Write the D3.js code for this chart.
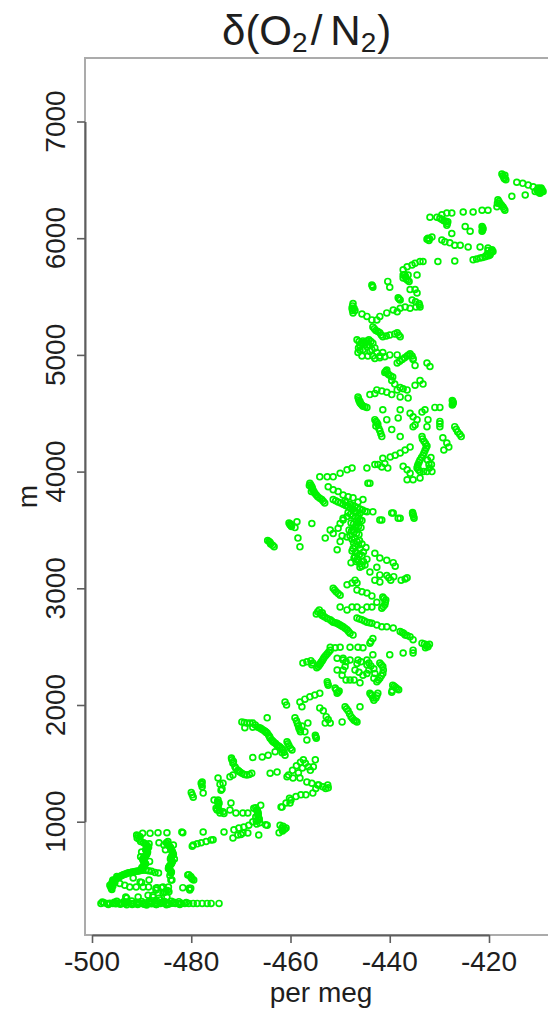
<!DOCTYPE html>
<html>
<head>
<meta charset="utf-8">
<script src="https://cdn.jsdelivr.net/npm/d3@7"></script>
<style>
  html, body { margin: 0; padding: 0; background: #ffffff; }
  svg { display: block; }
  text { font-family: "Liberation Sans", Arial, Helvetica, sans-serif; fill: #1e1e1e; }
</style>
</head>
<body>
<svg id="chart" width="548" height="1017"></svg>
<script>
// delta(O2/N2) in per meg against altitude in m, grouped by altitude band.
// Each entry: [per meg, m]
const bandBelow1000 = [
  [-498.2,300],[-497.6,305],[-497.0,298],[-496.4,302],[-495.8,300],[-495.2,296],[-494.6,303],[-494.0,300],
  [-493.4,298],[-492.8,305],[-492.2,300],[-491.6,296],[-491.0,302],[-490.4,300],[-489.8,298],[-489.2,304],
  [-488.6,300],[-488.0,296],[-487.4,302],[-486.8,300],[-486.2,298],[-485.6,303],[-485.0,300],[-484.4,297],
  [-483.8,302],[-483.2,300],[-482.6,298],[-482.0,302],[-481.3,300],[-480.5,300],[-479.6,300],[-478.8,300],
  [-477.8,300],[-476.8,300],[-476.0,300],[-474.4,300],
  [-495.0,318],[-493.6,315],[-492.0,320],[-490.0,316],[-488.5,318],[-487.0,322],[-485.4,316],[-484.0,318],
  [-482.5,315],[-493.0,288],[-490.8,290],[-489.0,286],[-487.0,290],[-485.0,288],
  [-497.9,312],[-496.7,290],[-495.5,310],[-494.3,292],[-493.1,312],[-491.9,290],[-490.7,310],[-489.5,292],
  [-488.3,310],[-487.1,290],[-485.9,310],[-484.7,292],[-483.5,310],[-482.3,290],[-481.0,308],
  [-493.2,355],[-490.7,355],[-488.7,370],[-487.7,370],[-485.7,390],[-485.1,400],[-484.5,400],[-487.1,430],
  [-486.0,435],[-484.6,440],[-481.7,435],[-480.5,545],[-480.0,520],[-479.5,500],[-480.3,415],[-480.1,430],
  [-480.7,544],[-484.1,500],[-484.1,560],[-484.5,610],[-491.1,440],[-490.0,480],[-488.6,440],[-488.5,500],
  [-487.1,415],[-484.9,355],[-487.7,355],[-486.3,330],[-486.9,433],[-485.7,441],[-483.9,500],
  [-485.4,395],[-484.8,410],[-480.4,430],[-480.1,530],[-479.8,510],[-493.0,345],[-486.5,345],
  [-496.2,440],[-496.0,470],[-495.6,490],[-495.2,510],[-494.6,525],[-494.0,540],[-493.4,550],[-492.8,560],
  [-492.2,565],[-491.6,570],[-491.0,575],[-490.4,580],[-489.8,585],[-489.2,585],[-488.6,580],[-488.0,575],
  [-487.3,565],[-486.6,560],[-496.0,420],[-495.8,450],[-495.8,500],[-495.0,530],
  [-496.4,455],[-495.9,485],[-495.4,500],[-494.9,518],[-494.3,532],[-493.7,545],[-493.1,555],[-492.5,563],
  [-491.9,568],[-491.3,573],[-490.7,578],[-490.1,583],[-496.1,430],
  [-495.4,480],[-494.4,470],[-493.4,455],[-492.4,440],[-491.7,518],[-490.3,484],[-489.7,441],
  [-490.0,600],[-489.6,620],[-489.2,640],[-489.6,660],[-489.8,680],[-489.4,700],[-489.0,720],[-488.8,740],
  [-489.2,760],[-488.6,780],[-489.0,800],[-489.6,820],[-490.2,700],[-488.4,660],[-490.0,740],
  [-489.9,610],[-489.4,630],[-489.4,650],[-489.7,670],[-489.6,690],[-489.2,710],[-488.9,730],[-489.0,750],
  [-488.9,770],[-488.8,790],[-489.3,810],[-490.2,830],[-490.5,850],[-490.3,870],
  [-490.7,880],[-490.9,860],[-489.8,900],[-488.3,900],[-486.7,905],[-484.9,905],[-486.5,820],[-485.5,800],
  [-488.5,810],[-491.0,886],
  [-485.0,820],[-484.6,800],[-484.2,780],[-484.0,760],[-483.8,740],[-483.6,720],[-484.0,700],[-484.2,680],
  [-483.8,660],[-484.0,640],[-484.4,620],[-484.6,600],[-484.2,580],[-483.6,800],[-485.2,760],[-483.4,680],
  [-484.8,810],[-484.4,790],[-484.1,770],[-483.9,750],[-483.7,730],[-483.8,710],[-484.1,690],[-484.0,670],
  [-483.9,650],[-484.2,630],[-484.5,610],[-484.4,590],[-484.0,570],[-484.3,540],[-484.7,830],
  [-481.7,905],[-477.6,912],[-473.4,912],[-481.9,912],
  [-479.6,800],[-478.8,810],[-478.0,820],[-477.0,830],[-476.0,843],[-475.6,845],[-479.8,790],
  [-471.6,860],[-470.6,886],[-469.6,903],[-468.6,903],[-470.0,890],
  [-468.4,970],[-469.4,955],[-470.4,945],[-471.4,930],[-466.4,886],[-465.0,973],[-466.2,990],[-466.8,980],
  [-464.7,970],[-462.1,970],[-461.7,945],[-461.5,960],[-462.3,905],[-461.5,930],[-460.9,945],[-461.2,935],
  [-461.6,920]
];

const band1000to2000 = [
  [-471.0,1075],[-469.6,1075],[-468.6,1075],[-467.4,1115],[-466.6,1085],[-467.0,1040],[-466.4,1015],[-467.6,1000],
  [-466.8,1100],[-466.6,1060],[-466.4,1030],[-467.0,1120],[-466.0,1140],
  [-466.7,1090],[-466.5,1070],[-466.5,1045],[-466.3,1022],[-466.9,1005],
  [-461.9,1125],[-460.9,1160],[-459.9,1185],[-458.9,1215],[-457.9,1230],[-456.9,1230],[-460.2,1200],[-461.7,1125],
  [-460.1,1160],[-455.5,1245],[-454.9,1285],[-454.3,1315],[-452.9,1285],[-452.5,1315],
  [-479.8,1230],[-479.6,1210],[-480.0,1250],[-477.6,1245],[-478.0,1330],[-477.8,1300],[-477.8,1340],[-477.9,1318],
  [-475.4,1185],[-474.4,1160],[-475.0,1115],[-474.8,1100],[-473.6,1085],[-473.4,1070],[-472.0,1160],[-474.0,1270],
  [-473.6,1330],[-474.6,1375],[-474.2,1320],[-473.8,1280],[-472.2,1385],[-471.6,1400],[-474.6,1185],[-474.6,1130],
  [-474.2,1075],[-472.2,1100],[-474.5,1150],[-474.7,1170],[-474.3,1095],
  [-471.8,1530],[-471.2,1470],[-470.6,1440],[-469.8,1415],[-468.8,1400],[-467.8,1415],[-471.6,1500],[-470.2,1425],
  [-471.5,1515],[-471.0,1455],[-470.4,1432],[-469.3,1405],[-468.3,1405],[-471.9,1545],
  [-467.6,1550],[-465.7,1555],[-464.5,1570],[-463.1,1600],[-461.7,1590],
  [-464.1,1415],[-462.7,1425],[-460.7,1385],[-459.5,1375],[-458.1,1375],[-456.7,1340],[-455.7,1330],[-454.5,1315],
  [-453.5,1300],[-452.4,1290],
  [-460.4,1400],[-459.6,1440],[-458.8,1480],[-458.0,1510],[-457.4,1530],[-457.0,1500],[-457.6,1460],[-458.4,1420],
  [-456.4,1470],[-456.0,1440],[-455.0,1530],[-455.4,1470],
  [-469.8,1855],[-468.8,1845],[-467.6,1845],[-466.6,1810],[-465.5,1785],[-464.7,1760],[-464.1,1715],[-463.5,1685],
  [-462.7,1655],[-462.1,1640],[-461.5,1615],[-461.1,1570],[-466.0,1800],[-465.0,1770],[-464.4,1740],[-463.8,1700],
  [-463.0,1670],[-464.7,1890],[-469.2,1805],[-467.6,1810],
  [-469.3,1850],[-468.2,1845],[-467.1,1828],[-466.3,1805],[-465.8,1792],[-465.2,1778],[-464.9,1765],[-464.2,1728],
  [-463.6,1692],[-463.3,1678],[-462.4,1648],[-461.8,1628],[-461.3,1595],
  [-460.7,1685],[-460.3,1650],[-459.7,1615],[-460.5,1668],[-460.0,1630],
  [-459.1,1890],[-458.6,1840],[-458.3,1800],[-458.0,1770],[-457.7,1820],[-458.8,1865],[-458.4,1820],[-458.1,1785],
  [-457.1,1770],[-456.7,1700],[-456.5,1845],[-455.0,1740],[-454.8,1715],[-454.9,1728],
  [-457.7,1985],[-454.1,1975],[-453.4,1950],[-452.8,1900],[-452.4,1875],[-453.0,1845],[-452.0,1845],
  [-449.6,1855],[-449.0,1985],[-448.4,1950],[-447.8,1900],[-447.2,1870],[-446.6,1855],[-446.0,1985],
  [-448.7,1968],[-448.1,1925],[-447.5,1885],[-446.9,1862]
];

const band2000to3000 = [
  [-461.1,2025],[-460.8,2000],
  [-458.1,2025],[-457.1,2050],[-456.1,2070],[-455.1,2085],[-454.1,2100],
  [-452.6,2200],[-452.4,2170],[-451.0,2145],[-450.6,2100],[-450.2,2120],[-452.5,2185],[-450.4,2110],[-450.8,2130],
  [-450.6,2300],[-449.4,2300],[-449.0,2330],[-449.6,2255],[-448.8,2215],[-448.0,2215],[-447.2,2215],[-446.0,2190],
  [-447.0,2300],[-446.2,2280],[-445.4,2255],[-444.6,2270],[-444.2,2300],[-443.8,2335],[-443.2,2310],[-443.0,2270],
  [-443.2,2230],
  [-444.0,2100],[-443.6,2080],[-443.2,2040],[-442.8,2060],[-442.4,2100],[-443.4,2060],[-443.8,2090],[-442.6,2080],
  [-439.4,2170],[-438.8,2150],[-438.2,2130],[-439.6,2110],[-439.1,2160],[-438.5,2140],[-439.5,2125],
  [-457.5,2360],[-456.7,2370],[-455.5,2360],[-454.1,2350],[-455.9,2380],[-455.7,2345],[-454.7,2320],
  [-449.4,2385],[-448.8,2370],[-446.6,2355],[-445.8,2370],[-444.6,2345],[-444.2,2360],
  [-442.0,2360],[-441.4,2330],[-441.4,2270],[-442.0,2230],[-442.6,2200],
  [-441.7,2345],[-441.3,2300],[-441.7,2250],[-442.3,2215],
  [-443.4,2430],[-440.0,2430],[-437.3,2445],[-435.3,2470],[-435.3,2445],
  [-450.6,2400],[-449.4,2400],[-448.0,2385],[-446.4,2385],[-444.6,2385],
  [-452.0,2495],[-451.0,2490],[-450.0,2495],[-448.0,2495],[-446.4,2495],[-445.4,2490],
  [-452.0,2470],[-452.6,2440],[-453.2,2410],[-453.6,2380],[-454.0,2355],[-454.4,2330],
  [-452.3,2455],[-452.9,2425],[-453.4,2395],[-453.8,2368],[-454.2,2342],
  [-454.5,2800],[-453.7,2770],[-453.1,2755],[-452.0,2730],[-451.4,2710],[-450.6,2700],[-450.0,2685],[-449.4,2670],
  [-448.6,2645],[-448.0,2615],[-447.4,2600],[-454.8,2780],[-454.2,2815],[-453.6,2790],
  [-454.0,2785],[-453.4,2762],[-452.6,2742],[-451.7,2720],[-451.0,2705],[-450.3,2692],[-449.7,2678],[-449.0,2658],
  [-448.3,2630],
  [-446.6,2745],[-445.6,2730],[-444.6,2710],[-443.6,2700],[-442.6,2685],[-441.6,2670],[-440.6,2670],[-439.3,2660],
  [-437.9,2630],[-436.9,2600],[-435.9,2585],[-435.3,2560],[-433.5,2530],[-432.5,2515],[-432.3,2500],[-437.2,2615],
  [-432.8,2490],[-432.0,2520],
  [-446.1,2738],[-445.1,2720],[-444.1,2705],[-433.0,2522],[-432.6,2505],[-437.5,2622],[-436.5,2595],
  [-443.4,2570],[-443.8,2545],[-444.0,2530],
  [-450.0,2940],[-450.8,2970],
  [-446.6,2985],[-445.6,2970],[-444.6,2960],[-443.6,2935],[-442.6,2880],
  [-441.4,2925],[-440.8,2900],[-441.0,2860],[-441.6,2830],[-441.2,2912],[-440.9,2880],[-441.3,2845],
  [-450.0,2840],[-448.6,2815],[-447.6,2840],[-446.6,2840],[-445.6,2815],[-444.6,2840],[-443.6,2840]
];

const band3000to4000 = [
  [-451.4,3000],[-448.6,3030],[-447.6,3045],[-446.6,3045],[-451.1,2985],[-450.4,2955],
  [-442.0,3055],[-439.8,3070],[-437.7,3070],
  [-442.6,3180],[-442.0,3115],[-440.6,3110],[-440.2,3090],[-439.2,3100],[-436.9,3080],[-436.5,3090],
  [-443.0,3300],[-442.0,3260],[-440.6,3240],[-439.3,3220],[-438.9,3190],
  [-443.4,3655],[-442.0,3585],[-439.3,3645],[-437.9,3600],[-435.3,3630],[-435.1,3600],[-435.4,3650],
  [-435.2,3615],[-435.4,3640],
  [-449.0,3750],[-448.0,3720],[-447.0,3700],[-446.0,3680],[-445.0,3660],[-448.4,3650],[-447.4,3620],[-446.4,3600],
  [-445.6,3580],[-447.8,3560],[-446.8,3540],[-445.8,3520],[-448.2,3500],[-447.2,3480],[-446.2,3460],[-448.6,3440],
  [-447.6,3420],[-446.6,3400],[-445.6,3380],[-447.0,3360],[-446.0,3340],[-447.6,3320],[-446.6,3300],[-445.6,3280],
  [-447.2,3260],[-446.4,3240],[-447.8,3220],[-445.0,3200],[-446.0,3180],[-444.6,3250],[-444.8,3350],[-449.4,3600],
  [-449.6,3450],
  [-448.8,3735],[-447.5,3710],[-446.5,3690],[-445.5,3670],[-447.9,3635],[-446.9,3610],[-446.0,3590],[-447.3,3550],
  [-446.3,3530],[-447.7,3490],[-446.7,3470],[-448.0,3450],[-447.1,3430],[-446.1,3410],[-447.3,3390],[-446.3,3370],
  [-447.4,3340],[-446.9,3310],[-446.1,3290],[-447.0,3270],[-446.6,3250],[-446.8,3230],[-446.0,3210],[-445.6,3190],
  [-445.3,3230],[-445.3,3310],
  [-453.0,3430],[-452.0,3500],[-451.4,3470],[-450.4,3515],[-450.0,3555],[-449.4,3585],[-448.6,3615],[-450.0,3400],
  [-450.6,3330],
  [-458.5,3430],[-458.1,3355],
  [-460.1,3545],[-459.8,3530],[-460.3,3560],[-458.7,3570],[-459.1,3520],[-455.7,3555],[-460.0,3552],[-459.9,3538],
  [-464.3,3400],[-464.0,3380],[-463.3,3355],[-464.6,3410],[-464.1,3392],[-463.6,3368],
  [-446.0,3645],[-444.6,3655],
  [-444.0,3140],[-443.0,3070],[-447.0,3070],
  [-456.1,3900],[-455.7,3870],[-455.5,3845],[-455.1,3815],[-454.5,3785],[-453.7,3760],[-453.1,3730],[-456.2,3880],
  [-455.8,3830],[-455.9,3885],[-455.6,3858],[-455.3,3830],[-454.8,3800],[-454.1,3772],[-453.4,3745],
  [-454.1,3955],[-452.6,3955],[-451.4,3955],[-450.0,3985],
  [-452.4,3870],[-451.4,3845],[-450.4,3830],[-449.4,3800],[-448.4,3785],[-447.4,3775],[-446.4,3740],[-445.4,3760],
  [-451.4,3760],[-450.4,3740],[-449.4,3720],[-448.4,3700],[-447.4,3680],[-446.8,3650],[-446.4,3620],[-446.4,3560],
  [-446.8,3520],[-447.4,3500],
  [-450.9,3750],[-449.9,3730],[-448.9,3710],[-447.9,3690],[-447.1,3665],
  [-444.0,3900],[-441.6,3585],[-439.6,3645],[-438.3,3600],
  [-436.5,3930],[-435.3,3930],[-433.9,3945],[-444.4,3900],[-435.9,3985]
];

const band4000to5000 = [
  [-448.6,4015],[-447.6,4030],
  [-446.4,4640],[-446.0,4590],[-445.4,4560],[-444.6,4550],[-444.0,4660],[-443.0,4670],[-441.6,4690],[-440.6,4680],
  [-439.6,4660],[-438.5,4700],[-437.9,4640],[-436.3,4630],[-446.2,4610],[-445.8,4580],
  [-446.3,4625],[-446.0,4600],[-445.6,4570],[-445.0,4555],
  [-441.0,4850],[-440.2,4830],[-439.4,4810],[-440.6,4870],[-440.8,4860],[-440.4,4840],[-439.8,4820],
  [-438.5,4930],[-437.5,4960],[-436.5,4990],[-432.5,4930],[-431.9,4900],[-434.9,4910],
  [-438.0,4945],[-437.0,4975],
  [-439.6,4780],[-439.0,4750],[-437.9,4720],[-437.3,4710],[-436.5,4700],[-434.9,4740],[-433.9,4780],[-433.3,4750],
  [-442.6,4700],
  [-441.4,4530],[-440.6,4445],[-439.6,4360],[-437.9,4300],[-438.3,4460],[-437.9,4530],
  [-443.0,4445],[-442.6,4420],[-442.0,4350],[-441.6,4300],[-442.8,4390],
  [-442.8,4430],[-442.4,4405],[-442.2,4370],[-441.8,4325],
  [-435.9,4500],[-435.3,4470],[-434.5,4445],[-434.9,4400],[-433.5,4510],[-432.9,4530],[-432.3,4445],[-432.5,4385],
  [-435.3,4385],
  [-430.9,4550],[-429.9,4550],
  [-427.4,4610],[-427.4,4570],[-427.2,4590],[-427.3,4600],[-427.3,4580],
  [-429.9,4430],[-429.9,4385],[-429.9,4410],
  [-426.9,4385],[-426.3,4340],[-425.6,4300],[-426.6,4362],[-425.9,4320],
  [-429.3,4290],[-428.5,4245],[-428.1,4210],[-429.1,4185],
  [-433.5,4300],[-433.1,4260],[-432.5,4220],[-432.9,4180],[-433.3,4140],[-433.9,4100],[-434.3,4060],[-434.5,4030],
  [-433.9,4000],[-432.5,4000],[-431.5,4000],[-432.1,4060],[-431.7,4120],
  [-433.4,4280],[-432.8,4240],[-432.7,4200],[-433.1,4160],[-433.6,4120],[-434.1,4080],[-434.4,4045],[-434.2,4015],
  [-433.2,4000],[-432.0,4030],[-431.6,4060],[-432.4,4100],
  [-435.9,4210],[-436.9,4185],[-437.9,4160],[-438.9,4140],[-439.9,4125],
  [-441.4,4115],[-441.0,4070],[-440.4,4030],[-441.6,4040],[-442.4,4060],[-443.0,4060],
  [-437.3,4045],[-436.5,4015],[-444.6,4030],
  [-442.0,4975],[-441.0,4985],[-445.6,4990],[-444.4,4990],[-443.0,4970],[-443.4,4990],[-442.0,4990],
  [-435.5,4990],[-435.3,4970],[-435.3,4960]
];

const band5000to6000 = [
  [-446.4,5020],[-445.4,5045],[-444.6,5070],[-443.6,5045],[-442.6,5020],[-440.0,5000],[-438.5,5000],[-435.9,5010],
  [-436.2,5000],
  [-446.6,5130],[-445.8,5100],[-445.0,5110],[-444.2,5130],[-443.4,5100],[-446.0,5080],
  [-445.4,5100],[-446.0,5040],[-444.0,5030],[-441.4,5020],
  [-446.2,5115],[-445.4,5120],[-444.6,5120],[-443.8,5115],[-446.3,5060],[-445.0,5090],[-444.2,5085],[-443.0,5060],
  [-443.4,5240],[-442.8,5210],[-442.0,5190],[-441.4,5155],[-440.0,5170],[-438.5,5190],[-437.9,5155],
  [-443.1,5225],[-442.4,5200],[-441.7,5170],[-440.7,5162],[-439.0,5180],[-438.2,5170],
  [-447.4,5440],[-447.6,5400],[-447.4,5360],[-447.0,5380],[-447.5,5420],[-447.5,5380],[-447.2,5400],
  [-445.6,5350],[-444.6,5330],[-443.6,5300],[-442.6,5300],[-442.0,5330],[-440.6,5360],[-439.3,5385],[-438.5,5370],
  [-437.9,5400],[-436.9,5410],[-435.9,5400],
  [-438.3,5490],[-437.9,5470],[-438.1,5480],
  [-435.5,5470],[-434.1,5440],[-433.9,5410],[-434.7,5410],[-434.8,5455],[-434.0,5425],
  [-435.9,5560],[-434.9,5560],[-434.5,5530],
  [-443.6,5600],[-443.4,5580],[-443.5,5590],[-440.4,5630],[-440.0,5580],
  [-437.3,5685],[-436.3,5685],[-434.5,5685],[-436.1,5630],[-437.3,5660],[-436.7,5650],
  [-436.8,5670],[-436.4,5640],[-437.0,5690],
  [-437.3,5730],[-436.5,5755],[-435.5,5770],[-434.9,5785],[-433.9,5800],[-433.3,5800],
  [-430.3,5800],[-426.9,5805],
  [-429.5,5985],[-428.9,5970],[-427.9,5960],[-426.9,5940],[-425.8,5940],[-424.2,5925],[-421.8,5925],[-420.2,5915],
  [-419.4,5900],[-419.2,5885],[-419.8,5855],[-420.8,5840],[-421.8,5830],[-423.2,5815],[-419.6,5880],[-420.4,5860],
  [-420.2,5895],[-419.5,5890],[-419.7,5870],[-420.1,5850],[-420.6,5845],[-421.3,5835],[-422.5,5822],
  [-432.1,5980],[-432.5,5990],[-432.0,5995]
];

const bandAbove6000 = [
  [-417.4,6550],[-417.0,6520],[-416.6,6500],[-416.8,6540],[-417.2,6535],[-416.9,6510],
  [-414.4,6480],[-413.2,6470],[-412.1,6455],[-411.1,6440],[-410.1,6430],[-409.3,6415],[-409.7,6385],[-409.1,6400],
  [-410.7,6400],[-409.5,6430],[-409.9,6390],[-410.3,6410],[-409.4,6405],[-409.8,6420],[-410.0,6400],
  [-412.7,6370],[-415.4,6360],
  [-418.2,6330],[-417.8,6300],[-417.2,6270],[-416.8,6240],[-418.4,6270],
  [-418.0,6315],[-417.5,6285],[-417.0,6255],[-418.3,6300],
  [-420.2,6240],[-421.4,6240],[-423.2,6225],[-425.2,6225],[-427.5,6215],[-428.5,6215],[-429.5,6200],[-430.5,6180],
  [-431.9,6180],
  [-429.9,6170],[-429.1,6150],[-428.3,6140],[-428.5,6110],[-429.5,6160],[-428.7,6145],[-428.4,6125],
  [-424.8,6100],[-423.8,6060],[-421.4,6100],[-421.4,6060],[-421.2,6080],[-421.3,6070],[-421.3,6090],
  [-427.5,6040],
  [-432.3,6000],[-431.5,6010]
];

const xTicks = [-500, -480, -460, -440, -420];
const yTicks = [1000, 2000, 3000, 4000, 5000, 6000, 7000];
const xLabel = "per meg";
const yLabel = "m";

const points = [].concat(bandBelow1000, band1000to2000, band2000to3000,
  band3000to4000, band4000to5000, band5000to6000, bandAbove6000);

const svg = d3.select("#chart");

// plotting region (the right side runs off the page)
const box = { left: 85, top: 58, right: 640, bottom: 935 };

const x = d3.scaleLinear().domain([-500, -420]).range([92, 489]);
const y = d3.scaleLinear().domain([1000, 7000]).range([821.7, 121.5]);

// light frame around the plotting region
svg.append("rect")
  .attr("x", box.left).attr("y", box.top)
  .attr("width", box.right - box.left).attr("height", box.bottom - box.top)
  .attr("fill", "none").attr("stroke", "#ababab").attr("stroke-width", 2);

// data points: open circles
svg.append("g")
  .selectAll("circle")
  .data(points)
  .join("circle")
  .attr("cx", d => x(d[0]))
  .attr("cy", d => y(d[1]))
  .attr("r", 2.9)
  .attr("fill", "none")
  .attr("stroke", "#00f200")
  .attr("stroke-width", 1.7);

// axes (dark line spans the outer ticks only)
const axisColor = "#5e5e5e";
const xAxis = svg.append("g")
  .attr("transform", `translate(0,${box.bottom})`)
  .call(d3.axisBottom(x).tickValues(xTicks).tickSize(8).tickSizeOuter(0).tickFormat(""));
const yAxis = svg.append("g")
  .attr("transform", `translate(${box.left},0)`)
  .call(d3.axisLeft(y).tickValues(yTicks).tickSize(8).tickSizeOuter(0).tickFormat(""));
[xAxis, yAxis].forEach(g => {
  g.select(".domain").attr("stroke", axisColor).attr("stroke-width", 2);
  g.selectAll(".tick line").attr("stroke", axisColor).attr("stroke-width", 1.6);
});

// tick labels
svg.append("g").selectAll("text")
  .data(xTicks).join("text")
  .attr("x", d => x(d))
  .attr("y", 971)
  .attr("text-anchor", "middle")
  .attr("font-size", 28)
  .text(d => String(d));

svg.append("g").selectAll("text")
  .data(yTicks).join("text")
  .attr("transform", d => `translate(65,${y(d)}) rotate(-90)`)
  .attr("text-anchor", "middle")
  .attr("font-size", 28)
  .text(d => d);

// axis titles
svg.append("text")
  .attr("x", 321).attr("y", 1002)
  .attr("text-anchor", "middle")
  .attr("font-size", 28)
  .text(xLabel);

svg.append("text")
  .attr("transform", `translate(37,${(box.top + box.bottom) / 2}) rotate(-90)`)
  .attr("text-anchor", "middle")
  .attr("font-size", 28)
  .text(yLabel);

// main title: δ(O₂/N₂), laid out in one flowing line
const title = svg.append("text")
  .attr("x", 222).attr("y", 45)
  .attr("font-size", 42);
title.append("tspan").text("δ(O");
title.append("tspan").attr("dy", 7).attr("font-size", 28).text("2");
title.append("tspan").attr("dy", -7).attr("dx", 3).text("/");
title.append("tspan").attr("dx", 8).text("N");
title.append("tspan").attr("dy", 7).attr("font-size", 28).text("2");
title.append("tspan").attr("dy", -7).attr("dx", 1).text(")");
</script>
</body>
</html>
